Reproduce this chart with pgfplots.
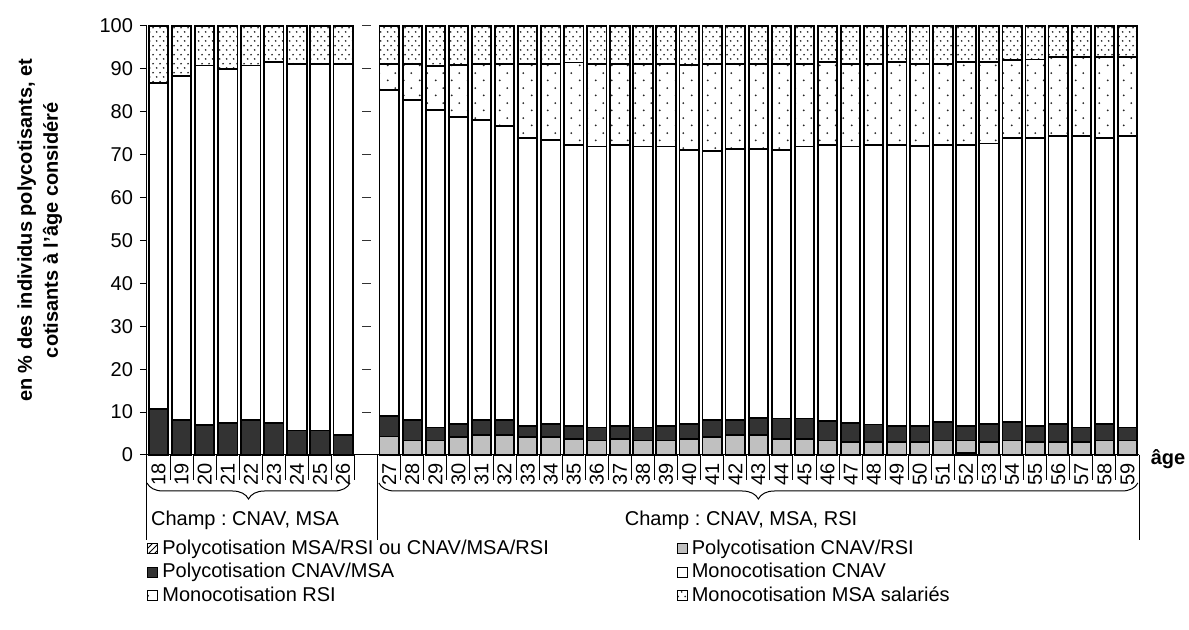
\documentclass[border=0pt]{standalone}
\usepackage{fontspec}
\setmainfont{Liberation Sans}
\usepackage{pgfplots}
\pgfplotsset{compat=1.18}
\usepackage{pgfplotstable}
\usetikzlibrary{patterns,decorations.pathreplacing}
\frenchspacing

\definecolor{darkbar}{HTML}{333333}
\definecolor{greybar}{HTML}{C0C0C0}

% dense dots (Monocotisation MSA salariés)
\pgfdeclarepatternformonly{densedots}{\pgfqpoint{0pt}{0pt}}{\pgfqpoint{3.7pt}{4.6pt}}{\pgfqpoint{3.7pt}{4.6pt}}{%
  \pgfpathcircle{\pgfqpoint{0.9pt}{1.1pt}}{0.5pt}%
  \pgfpathcircle{\pgfqpoint{2.75pt}{3.4pt}}{0.5pt}%
  \pgfusepath{fill}}
% sparse dots (Monocotisation RSI)
\pgfdeclarepatternformonly{sparsedots}{\pgfqpoint{0pt}{0pt}}{\pgfqpoint{8pt}{7.6pt}}{\pgfqpoint{8pt}{7.6pt}}{%
  \pgfpathcircle{\pgfqpoint{2pt}{1.9pt}}{0.55pt}%
  \pgfpathcircle{\pgfqpoint{6pt}{5.7pt}}{0.55pt}%
  \pgfusepath{fill}}

\pgfplotsset{sqlegend/.style={legend image code/.code={%
  \draw[##1, line width=0.5pt] (0pt,-2.5pt) rectangle (5pt,2.5pt);}}}

% age index: 18..26 -> 0..8, empty slot 9, 27..59 -> 10..42
\pgfplotstableread{
x h g k w s m
0 0 0 10.8 75.9 0 13.3
1 0 0 8.1 80.2 0 11.7
2 0 0 7.0 83.8 0 9.2
3 0 0 7.4 82.6 0 10.0
4 0 0 8.1 82.7 0 9.2
5 0 0 7.4 84.2 0 8.4
6 0 0 5.7 85.5 0 8.8
7 0 0 5.7 85.5 0 8.8
8 0 0 4.6 86.6 0 8.8
10 0 4.3 4.7 76.0 6.1 8.9
11 0 3.4 4.7 74.6 8.4 8.9
12 0 3.4 3.0 74.1 10.1 9.4
13 0 4.2 3.1 71.4 12.2 9.1
14 0 4.6 3.5 70.0 13.0 8.9
15 0 4.6 3.5 68.6 14.4 8.9
16 0 4.2 2.6 67.0 17.3 8.9
17 0 4.2 3.1 66.1 17.8 8.8
18 0 3.8 3.0 65.4 19.3 8.5
19 0 3.4 3.0 65.5 19.3 8.8
20 0 3.8 3.0 65.4 18.9 8.9
21 0 3.4 3.0 65.5 19.2 8.9
22 0 3.4 3.4 65.1 19.3 8.8
23 0 3.8 3.5 63.8 19.8 9.1
24 0 4.2 3.9 62.8 20.2 8.9
25 0 4.6 3.5 63.3 19.7 8.9
26 0 4.6 4.0 62.8 19.7 8.9
27 0 3.8 4.7 62.6 20.1 8.8
28 0 3.8 4.7 63.4 19.3 8.8
29 0 3.4 4.5 64.3 19.4 8.4
30 0 3.0 4.5 64.4 19.3 8.8
31 0 3.0 4.1 65.1 19.0 8.8
32 0 3.0 3.8 65.4 19.4 8.4
33 0 3.0 3.8 65.2 19.2 8.8
34 0 3.4 4.3 64.5 19.0 8.8
35 0.4 3.0 3.4 65.4 19.4 8.4
36 0 3.0 4.3 65.3 19.0 8.4
37 0 3.4 4.3 66.1 18.2 8.0
38 0 3.0 3.8 67.0 18.4 7.8
39 0 3.0 4.3 67.0 18.5 7.2
40 0 3.0 3.4 67.9 18.5 7.2
41 0 3.4 3.9 66.5 19.0 7.2
42 0 3.4 3.0 67.9 18.5 7.2
}\ages

\begin{document}
\begin{tikzpicture}
\useasboundingbox (-73.5pt,-87.5pt) rectangle (521pt,227.5pt);
\begin{axis}[
  at={(0,0)}, anchor=south west,
  scale only axis, width=496pt, height=214.5pt,
  xmin=-0.5, xmax=42.5, ymin=0, ymax=100,
  ybar stacked, bar width=0.84,
  axis lines*=left,
  axis line style={line width=0.5pt},
  ytick={0,10,...,100},
  tick align=outside, major tick length=3.5pt,
  tick style={black, line width=0.5pt},
  xtick={0,1,2,3,4,5,6,7,8,10,11,...,42},
  xticklabels={18,19,20,21,22,23,24,25,26,27,28,29,30,31,32,33,34,35,36,37,38,39,40,41,42,43,44,45,46,47,48,49,50,51,52,53,54,55,56,57,58,59},
  xtick style={draw=none},
  xticklabel style={rotate=90, anchor=east, inner sep=0.5pt},
  font=\fontsize{10}{12}\selectfont,
  ticklabel style={font=\fontsize{10}{12}\selectfont},
  /pgf/number format/assume math mode=true,
  ylabel={en \% des individus polycotisants, et\\cotisants à l'âge considéré},
  ylabel style={at={(axis description cs:-0.108,0.524)}, anchor=center, align=center,
    font=\bfseries\fontsize{10}{13}\selectfont},
  clip=false,
  legend columns=2,
  legend cell align=left,
  legend style={at={(axis description cs:0.0,-0.187)}, anchor=north west,
    draw=none, fill=none, inner sep=0pt, row sep=-0.9pt,
    font=\fontsize{10}{12}\selectfont,
    /tikz/every even column/.append style={column sep=62pt}},
  every axis plot/.append style={draw=black, line width=0.9pt},
]
\addplot[sqlegend, pattern=north east lines] table[x=x, y=h] {\ages};
\addlegendentry{Polycotisation MSA/RSI ou CNAV/MSA/RSI}
\addplot[sqlegend, fill=greybar] table[x=x, y=g] {\ages};
\addlegendentry{Polycotisation CNAV/RSI}
\addplot[sqlegend, fill=darkbar] table[x=x, y=k] {\ages};
\addlegendentry{Polycotisation CNAV/MSA}
\addplot[sqlegend, fill=white] table[x=x, y=w] {\ages};
\addlegendentry{Monocotisation CNAV}
\addplot[sqlegend, pattern=sparsedots, pattern color=black!85] table[x=x, y=s] {\ages};
\addlegendentry{Monocotisation RSI}
\addplot[sqlegend, pattern=densedots, pattern color=black!85] table[x=x, y=m] {\ages};
\addlegendentry{Monocotisation MSA salariés}

% separators between the age labels
\pgfplotsinvokeforeach{-0.5,0.5,...,42.5}{
  \draw[line width=0.5pt] (axis cs:#1,0) -- ++(0pt,-12.5pt);
}
% group boundaries
\pgfplotsinvokeforeach{-0.5,9.5,42.5}{
  \draw[line width=0.5pt] (axis cs:#1,0) -- ++(0pt,-42.5pt);
}
% short dashes in the empty slot
\pgfplotsinvokeforeach{10,20,...,100}{
  \draw[line width=0.5pt, black!80] (axis cs:8.82,#1) -- (axis cs:9.21,#1);
}
% braces and group captions
\draw[decorate, decoration={brace, mirror, amplitude=8pt}, line width=0.5pt]
  ([yshift=-14pt]axis cs:-0.5,0) -- ([yshift=-14pt]axis cs:8.3,0);
\draw[decorate, decoration={brace, mirror, amplitude=8pt}, line width=0.5pt]
  ([yshift=-14pt]axis cs:9.55,0) -- ([yshift=-14pt]axis cs:42.45,0);
\node at ([yshift=-32.5pt]axis cs:3.75,0) {Champ : CNAV, MSA};
\node at ([yshift=-32.5pt]axis cs:25.25,0) {Champ : CNAV, MSA, RSI};
\node[font=\bfseries\fontsize{10}{12}\selectfont] at ([yshift=-2pt]axis cs:43.76,0) {âge};
\end{axis}
\end{tikzpicture}
\end{document}
